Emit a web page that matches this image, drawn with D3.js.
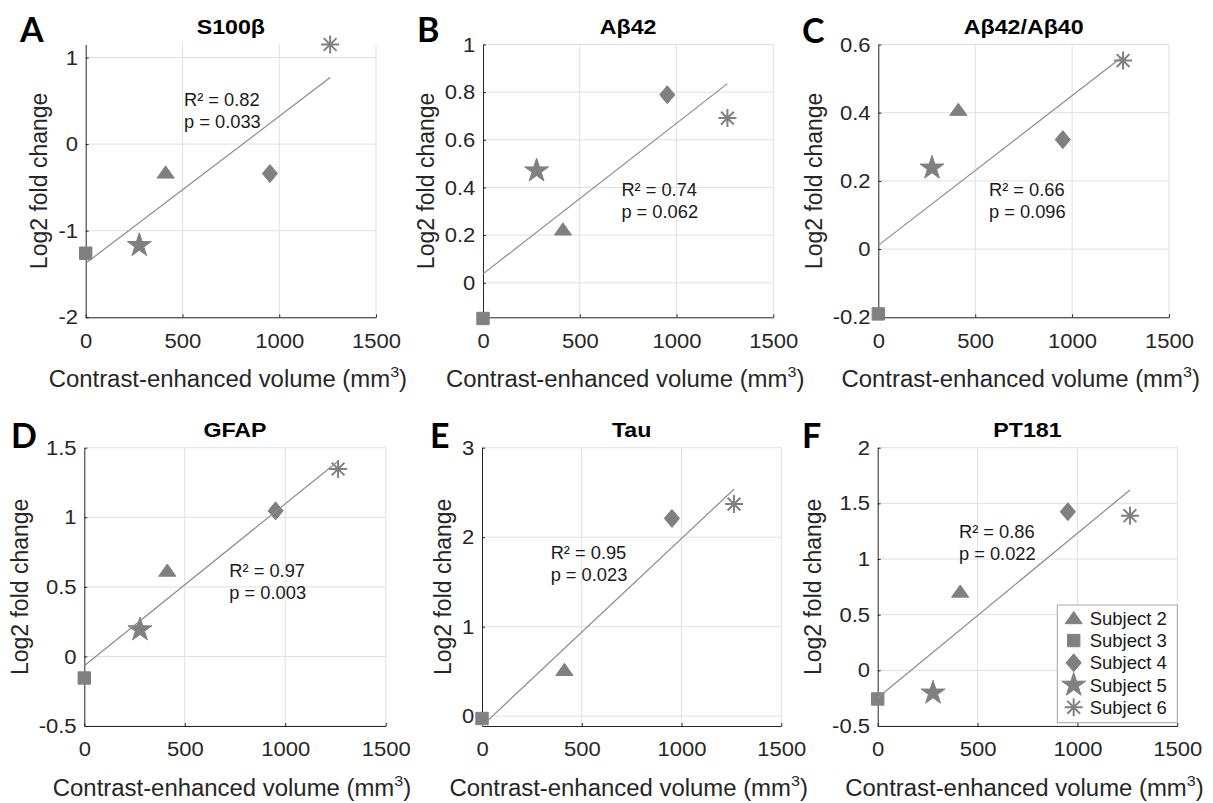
<!DOCTYPE html>
<html>
<head>
<meta charset="utf-8">
<script src="https://cdn.jsdelivr.net/npm/d3@7"></script>
<style>
body { margin: 0; background: #fff; }
text { font-family: "Liberation Sans", Arial, sans-serif; }
</style>
</head>
<body>
<div id="chart"></div>
<script>
// subjects and their contrast-enhanced volume (mm3)
var subjects = ['Subject 2', 'Subject 3', 'Subject 4', 'Subject 5', 'Subject 6'];
var volume = [413, 0, 952, 277, 1263];
var markers = ['triangle', 'square', 'diamond', 'star', 'asterisk'];

var letters = ['A', 'B', 'C', 'D', 'E', 'F'];
var titles = ['S100β', 'Aβ42', 'Aβ42/Aβ40', 'GFAP', 'Tau', 'PT181'];

// log2 fold change per subject (order of subjects above), null = no value
var s100b = [-0.33, -1.26, -0.34, -1.17, 1.15];
var ab42 = [0.223, -0.15, 0.789, 0.47, 0.691];
var abRatio = [0.408, -0.19, 0.321, 0.238, 0.553];
var gfap = [0.615, -0.155, 1.046, 0.192, 1.347];
var tau = [0.515, -0.026, 2.21, null, 2.37];
var pt181 = [0.706, -0.257, 1.425, -0.203, 1.389];
var series = [s100b, ab42, abRatio, gfap, tau, pt181];

var rSquared = ['0.82', '0.74', '0.66', '0.97', '0.95', '0.86'];
var pValues = ['0.033', '0.062', '0.096', '0.003', '0.023', '0.022'];

var xTicks = [0, 500, 1000, 1500];
var yDomains = [[-2, 1.15], [-0.145, 1], [-0.2, 0.6], [-0.5, 1.5], [-0.11, 3], [-0.5, 2]];
var yTicks = [
    [-2, -1, 0, 1],
    [0, 0.2, 0.4, 0.6, 0.8, 1],
    [-0.2, 0, 0.2, 0.4, 0.6],
    [-0.5, 0, 0.5, 1, 1.5],
    [0, 1, 2, 3],
    [-0.5, 0, 0.5, 1, 1.5, 2]
];

// where the R2/p text sits, in data units (x, y of first line)
var statAnchor = [[508, 0.445], [715, 0.366], [571, 0.157], [722, 0.574], [344, 1.752], [407, 1.187]];

// panel boxes in pixels
var layout = [
    {l: 85.7, r: 376, t: 44.5, b: 317.3, lx: 20, ly: 41.7},
    {l: 483, r: 773.3, t: 44.5, b: 317.3, lx: 417, ly: 42.3},
    {l: 878.3, r: 1169, t: 44.5, b: 317.3, lx: 802, ly: 42.7},
    {l: 84.3, r: 385.7, t: 447.7, b: 726, lx: 11, ly: 448.3},
    {l: 482, r: 781.3, t: 447.7, b: 726, lx: 430, ly: 448},
    {l: 877.7, r: 1177.3, t: 447.7, b: 726, lx: 802, ly: 448}
];

var markerColor = '#808080';
var axisColor = '#262626';
var gridColor = '#e0e0e0';

// the source figure is a bit wider than tall, so text gets a horizontal stretch
var tickStretch = 1.13, titleStretch = 1.19, labelStretch = 1.04, statStretch = 1.045;

var W = 1213, H = 803;
var svg = d3.select('#chart').append('svg')
    .attr('width', W)
    .attr('height', H);
svg.append('rect').attr('width', W).attr('height', H).attr('fill', '#fff');

function placeText(parent, x, y, sx) {
    return parent.append('text')
        .attr('transform', 'translate(' + x + ',' + y + ') scale(' + sx + ',1)');
}

function starPath(R) {
    var r = R * 0.382, pts = [];
    for (var k = 0; k < 10; k++) {
        var a = -Math.PI / 2 + k * Math.PI / 5;
        var rr = k % 2 ? r : R;
        pts.push([rr * Math.cos(a), rr * Math.sin(a)]);
    }
    return 'M' + pts.map(function(p){ return p[0].toFixed(2) + ',' + p[1].toFixed(2); }).join('L') + 'Z';
}

function markerPath(m) {
    if (m === 'triangle') return 'M0,-6.8L8.6,5.4L-8.6,5.4Z';
    if (m === 'square') return 'M-6.2,-6.2H6.2V6.2H-6.2Z';
    if (m === 'diamond') return 'M0,-9L7.6,0L0,9L-7.6,0Z';
    if (m === 'star') return starPath(12.6);
    return 'M-9,0H9M0,-9V9M-6.4,-6.4L6.4,6.4M-6.4,6.4L6.4,-6.4';
}

function drawMarker(sel, m) {
    sel.append('path')
        .attr('d', markerPath(m))
        .attr('fill', m === 'asterisk' ? 'none' : markerColor)
        .attr('stroke', markerColor)
        .attr('stroke-width', m === 'asterisk' ? 2 : 1);
}

function linFit(pts) {
    var mx = d3.mean(pts, function(d){ return d.x; });
    var my = d3.mean(pts, function(d){ return d.y; });
    var sxy = d3.sum(pts, function(d){ return (d.x - mx) * (d.y - my); });
    var sxx = d3.sum(pts, function(d){ return (d.x - mx) * (d.x - mx); });
    var slope = sxy / sxx;
    return {slope: slope, icpt: my - slope * mx};
}

layout.forEach(function(p, i) {
    var x = d3.scaleLinear().domain([0, 1500]).range([p.l, p.r]);
    var y = d3.scaleLinear().domain(yDomains[i]).range([p.b, p.t]);
    var g = svg.append('g');

    // grid
    g.append('g').selectAll('line')
        .data(xTicks.filter(function(v){ return v > 0; }))
        .join('line')
        .attr('x1', function(d){ return x(d); }).attr('x2', function(d){ return x(d); })
        .attr('y1', p.t).attr('y2', p.b)
        .attr('stroke', gridColor).attr('stroke-width', 1);
    g.append('g').selectAll('line')
        .data(yTicks[i])
        .join('line')
        .attr('x1', p.l).attr('x2', p.r)
        .attr('y1', function(d){ return y(d); }).attr('y2', function(d){ return y(d); })
        .attr('stroke', gridColor).attr('stroke-width', 1);

    // axes
    var xAxis = g.append('g')
        .attr('transform', 'translate(0,' + p.b + ')')
        .call(d3.axisBottom(x).tickValues(xTicks).tickSizeInner(-3).tickSizeOuter(0)
            .tickPadding(16.5).tickFormat(function(d){ return String(d); }));
    var yAxis = g.append('g')
        .attr('transform', 'translate(' + p.l + ',0)')
        .call(d3.axisLeft(y).tickValues(yTicks[i]).tickSizeInner(-3).tickSizeOuter(0)
            .tickPadding(6.8).tickFormat(function(d){ return String(d); }));
    [xAxis, yAxis].forEach(function(a) {
        a.attr('font-family', null).attr('font-size', null);
        a.select('.domain').attr('stroke', axisColor);
        a.selectAll('.tick line').attr('stroke', axisColor);
        a.selectAll('.tick text')
            .attr('fill', axisColor)
            .attr('transform', 'scale(' + tickStretch + ',1)')
            .style('font-size', '19.5px');
    });
    yAxis.selectAll('.tick text').attr('dy', '0.34em');

    // data points + fit
    var pts = [];
    series[i].forEach(function(v, k) {
        if (v !== null) pts.push({x: volume[k], y: v, m: markers[k]});
    });
    pts.forEach(function(d) {
        var mg = g.append('g').attr('transform', 'translate(' + x(d.x) + ',' + y(d.y) + ')');
        drawMarker(mg, d.m);
    });
    var fit = linFit(pts);
    var xr = d3.extent(pts, function(d){ return d.x; });
    g.append('line')
        .attr('x1', x(xr[0])).attr('y1', y(fit.icpt + fit.slope * xr[0]))
        .attr('x2', x(xr[1])).attr('y2', y(fit.icpt + fit.slope * xr[1]))
        .attr('stroke', '#8c8c8c').attr('stroke-width', 1.2);

    // R2 / p text
    var sx = x(statAnchor[i][0]), sy = y(statAnchor[i][1]);
    placeText(g, sx, sy, statStretch)
        .style('font-size', '17.5px').attr('fill', '#1a1a1a')
        .text('R² = ' + rSquared[i]);
    placeText(g, sx, sy + 22, statStretch)
        .style('font-size', '17.5px').attr('fill', '#1a1a1a')
        .text('p = ' + pValues[i]);

    // title
    placeText(g, (p.l + p.r) / 2, p.t - 10.8, titleStretch)
        .attr('text-anchor', 'middle')
        .style('font-size', '19.5px').style('font-weight', 'bold')
        .attr('fill', '#000')
        .text(titles[i]);

    // x label
    var xl = placeText(g, (p.l + p.r) / 2 - 3, p.b + 69.5, labelStretch)
        .attr('text-anchor', 'middle')
        .style('font-size', '23px').attr('fill', axisColor);
    xl.append('tspan').text('Contrast-enhanced volume (mm');
    xl.append('tspan').attr('dy', -10).style('font-size', '15.5px').text('3');
    xl.append('tspan').attr('dy', 10).text(')');

    // y label, placed left of the widest tick label
    var bb = yAxis.node().getBBox();
    var tickLeft = d3.min(yAxis.selectAll('.tick text').nodes(), function(n) {
        return -n.getComputedTextLength() * tickStretch - 6.8 * tickStretch;
    });
    var ylx = p.l + Math.min(bb.x, tickLeft) - 11;
    g.append('text')
        .attr('transform', 'translate(' + ylx + ',' + (p.t + p.b) / 2 + ') rotate(-90)')
        .attr('text-anchor', 'middle')
        .style('font-size', '23px').attr('fill', axisColor)
        .text('Log2 fold change');

    // panel letter
    g.append('text')
        .attr('x', p.lx).attr('y', p.ly)
        .style('font-family', 'Lato, "Open Sans", sans-serif')
        .style('font-size', '34px').style('font-weight', 'bold')
        .attr('fill', '#000')
        .text(letters[i]);

    // legend in the last panel
    if (i === 5) {
        var lg = g.append('g').attr('transform', 'translate(1057.3,605)');
        lg.append('rect')
            .attr('width', 120).attr('height', 117.7)
            .attr('fill', '#fff').attr('stroke', '#a6a6a6').attr('stroke-width', 1);
        var rows = lg.selectAll('g.row').data(subjects).join('g')
            .attr('class', 'row')
            .attr('transform', function(d, k){ return 'translate(16.4,' + (13.3 + k * 22.25) + ')'; });
        rows.each(function(d, k){ drawMarker(d3.select(this), markers[k]); });
        rows.append('text')
            .attr('x', 16).attr('dy', '0.35em')
            .style('font-size', '18.5px').attr('fill', '#1a1a1a')
            .text(function(d){ return d; });
    }
});
</script>
</body>
</html>
